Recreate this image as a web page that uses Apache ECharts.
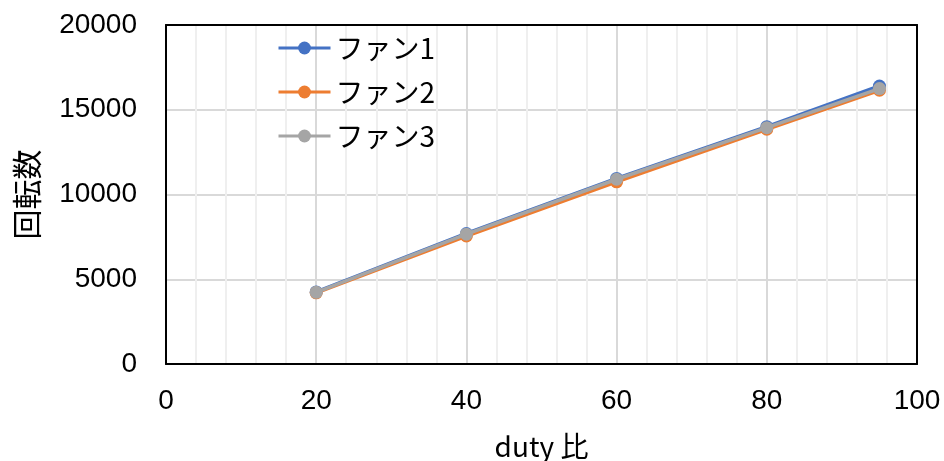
<!DOCTYPE html>
<html>
<head>
<meta charset="utf-8">
<script src="https://cdn.jsdelivr.net/npm/echarts@6/dist/echarts.min.js"></script>
<style>
  html, body { margin: 0; padding: 0; background: #fff; }
  #chart { width: 944px; height: 461px; }
</style>
</head>
<body>
<div id="chart"></div>
<script>
// duty ratio (%) vs. fan speed (rpm)
const duty = [20, 40, 60, 80, 95];
const fan1 = [4250, 7700, 10950, 14000, 16400];
const fan2 = [4200, 7550, 10750, 13850, 16150];
const fan3 = [4230, 7660, 10900, 13940, 16250];
const seriesNames = ['ファン1', 'ファン2', 'ファン3'];
const seriesColors = ['#4472C4', '#ED7D31', '#A5A5A5'];
const xTitle = 'duty 比';
const yTitle = '回転数';

const numFont = '"Liberation Sans", Arial, sans-serif';
const jpFont = '"Noto Sans CJK JP", sans-serif';

const chart = echarts.init(document.getElementById('chart'), null, { renderer: 'canvas' });

function pairs(xs, ys) { return xs.map((x, i) => [x, ys[i]]); }
const plain = v => String(v);

// frame axes: top and right edges of the plot box
const frameAxis = {
  show: true,
  axisLine: { show: true, onZero: false, lineStyle: { color: '#000', width: 2 } },
  axisTick: { show: false }, axisLabel: { show: false },
  splitLine: { show: false }
};

const option = {
  animation: false,
  backgroundColor: '#fff',
  grid: {
    left: 166, right: 27, top: 25, bottom: 97,
    outerBoundsMode: 'none', containLabel: false
  },
  legend: {
    orient: 'vertical',
    left: 272, top: 28,
    itemWidth: 52, itemHeight: 16, itemGap: 14,
    data: seriesNames,
    lineStyle: { width: 3 },
    textStyle: { fontFamily: jpFont, fontSize: 28, color: '#000', lineHeight: 30 }
  },
  xAxis: [{
    type: 'value', min: 0, max: 100, interval: 20,
    name: xTitle, nameLocation: 'middle', nameGap: 68,
    nameTextStyle: { fontFamily: jpFont, fontSize: 28, color: '#000' },
    axisLine: { show: true, onZero: false, lineStyle: { color: '#000', width: 2 } },
    axisTick: { show: false },
    axisLabel: { fontFamily: numFont, fontSize: 28, color: '#000', margin: 23, formatter: plain },
    splitLine: { show: true, lineStyle: { color: '#d9d9d9', width: 2 } },
    minorTick: { show: false, splitNumber: 5 },
    minorSplitLine: { show: true, lineStyle: { color: '#efefef', width: 2 } }
  }, Object.assign({ type: 'value', position: 'top', min: 0, max: 100, interval: 20 }, frameAxis)],
  yAxis: [{
    type: 'value', min: 0, max: 20000, interval: 5000,
    name: yTitle, nameLocation: 'middle', nameGap: 124, nameRotate: 90,
    nameTextStyle: { fontFamily: jpFont, fontSize: 30, color: '#000' },
    axisLine: { show: true, onZero: false, lineStyle: { color: '#000', width: 2 } },
    axisTick: { show: false },
    axisLabel: { fontFamily: numFont, fontSize: 28, color: '#000', margin: 29, formatter: plain },
    splitLine: { show: true, lineStyle: { color: '#d9d9d9', width: 2 } }
  }, Object.assign({ type: 'value', position: 'right', min: 0, max: 20000, interval: 5000 }, frameAxis)],
  series: [fan1, fan2, fan3].map((vals, i) => ({
    name: seriesNames[i],
    type: 'line',
    data: pairs(duty, vals),
    symbol: 'circle',
    symbolSize: 13,
    color: seriesColors[i],
    lineStyle: { width: 3.5, color: seriesColors[i] },
    itemStyle: { color: seriesColors[i] },
    z: 2 + i
  }))
};

chart.setOption(option);
</script>
</body>
</html>
